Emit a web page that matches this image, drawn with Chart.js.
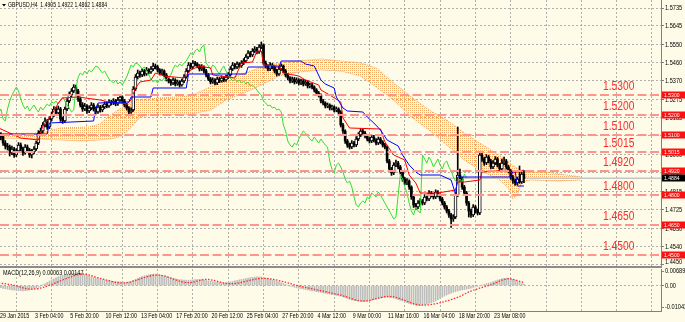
<!DOCTYPE html>
<html><head><meta charset="utf-8">
<script src="https://cdn.jsdelivr.net/npm/chart.js@4.4.1/dist/chart.umd.min.js"></script>
<style>
html,body{margin:0;padding:0;background:#fefce8;}
#wrap{position:relative;width:685px;height:322px;overflow:hidden;background:#fefce8;}
#c1{position:absolute;left:0;top:0;}
#sep{position:absolute;left:0;top:266px;width:662px;height:2px;background:#8c8c8c;}
#c2{position:absolute;left:0;top:268px;}
</style></head><body>
<div id="wrap"><canvas id="c1" width="685" height="266"></canvas><div id="sep"></div><canvas id="c2" width="685" height="54"></canvas></div>
<script>
// ---------------- DATA ----------------
const symbol = "GBPUSD,H4";
const timeLabels = ["29 Jan 2015","3 Feb 04:00","5 Feb 20:00","10 Feb 12:00","13 Feb 04:00","17 Feb 20:00","20 Feb 12:00","25 Feb 04:00","27 Feb 20:00","4 Mar 12:00","9 Mar 00:00","11 Mar 16:00","16 Mar 04:00","18 Mar 20:00","23 Mar 08:00"];
const priceTicks = [1.5735,1.5645,1.5550,1.5460,1.5370,1.5275,1.5185,1.5095,1.5000,1.4910,1.4815,1.4725,1.4630,1.4540,1.4450];
const levels = [1.5300,1.5200,1.5100,1.5015,1.4920,1.4800,1.4650,1.4500];
const macdTicks = [0.00689,0,-0.01043];

const closes = [1.5100,1.5090,1.5060,1.5045,1.5040,1.5010,1.5030,1.5000,1.5020,1.5050,
1.5030,1.5010,1.5040,1.5025,1.5000,1.5015,1.5030,1.5060,1.5110,1.5120,
1.5150,1.5170,1.5140,1.5180,1.5200,1.5230,1.5210,1.5230,1.5180,1.5170,
1.5230,1.5270,1.5300,1.5320,1.5340,1.5320,1.5280,1.5250,1.5230,1.5245,
1.5220,1.5235,1.5250,1.5230,1.5215,1.5240,1.5225,1.5240,1.5255,1.5245,
1.5265,1.5260,1.5270,1.5255,1.5275,1.5290,1.5270,1.5250,1.5235,1.5215,
1.5225,1.5330,1.5390,1.5410,1.5400,1.5420,1.5405,1.5425,1.5415,1.5430,
1.5445,1.5440,1.5425,1.5410,1.5420,1.5400,1.5380,1.5370,1.5360,1.5375,
1.5355,1.5365,1.5350,1.5370,1.5390,1.5420,1.5450,1.5440,1.5460,1.5455,
1.5445,1.5430,1.5440,1.5420,1.5400,1.5380,1.5365,1.5375,1.5360,1.5380,
1.5370,1.5385,1.5375,1.5390,1.5400,1.5430,1.5450,1.5440,1.5455,1.5445,
1.5460,1.5470,1.5490,1.5510,1.5500,1.5520,1.5530,1.5515,1.5540,1.5550,
1.5460,1.5445,1.5430,1.5450,1.5440,1.5420,1.5405,1.5430,1.5445,1.5420,
1.5400,1.5385,1.5370,1.5380,1.5365,1.5375,1.5360,1.5370,1.5355,1.5365,
1.5345,1.5350,1.5340,1.5325,1.5310,1.5300,1.5270,1.5260,1.5245,1.5250,
1.5235,1.5240,1.5225,1.5230,1.5215,1.5150,1.5120,1.5070,1.5050,1.5040,
1.5060,1.5050,1.5080,1.5100,1.5120,1.5110,1.5095,1.5080,1.5070,1.5090,
1.5075,1.5060,1.5080,1.5065,1.5050,1.5040,1.4970,1.4930,1.4910,1.4950,
1.4960,1.4940,1.4915,1.4880,1.4860,1.4870,1.4840,1.4790,1.4750,1.4740,
1.4760,1.4770,1.4760,1.4790,1.4780,1.4810,1.4800,1.4790,1.4815,1.4800,
1.4780,1.4760,1.4740,1.4720,1.4700,1.4680,1.4690,1.4800,1.4900,1.4880,
1.4840,1.4810,1.4760,1.4720,1.4700,1.4740,1.4720,1.4710,1.5000,1.4980,
1.4960,1.4990,1.4970,1.4940,1.4960,1.4980,1.4950,1.4930,1.4960,1.4970,
1.4940,1.4920,1.4890,1.4870,1.4860,1.4880,1.4865,1.4905,1.4884];

const opens = [1.5110,1.5100,1.5090,1.5060,1.5045,1.5040,1.5010,1.5030,1.5000,1.5020,
1.5050,1.5030,1.5010,1.5040,1.5025,1.5000,1.5015,1.5030,1.5060,1.5110,
1.5120,1.5150,1.5170,1.5140,1.5180,1.5200,1.5230,1.5210,1.5230,1.5180,
1.5170,1.5230,1.5270,1.5300,1.5320,1.5340,1.5320,1.5280,1.5250,1.5230,
1.5245,1.5220,1.5235,1.5250,1.5230,1.5215,1.5240,1.5225,1.5240,1.5255,
1.5245,1.5265,1.5260,1.5270,1.5255,1.5275,1.5290,1.5270,1.5250,1.5235,
1.5215,1.5225,1.5330,1.5390,1.5410,1.5400,1.5420,1.5405,1.5425,1.5415,
1.5430,1.5445,1.5440,1.5425,1.5410,1.5420,1.5400,1.5380,1.5370,1.5360,
1.5375,1.5355,1.5365,1.5350,1.5370,1.5390,1.5420,1.5450,1.5440,1.5460,
1.5455,1.5445,1.5430,1.5440,1.5420,1.5400,1.5380,1.5365,1.5375,1.5360,
1.5380,1.5370,1.5385,1.5375,1.5390,1.5400,1.5430,1.5450,1.5440,1.5455,
1.5445,1.5460,1.5470,1.5490,1.5510,1.5500,1.5520,1.5530,1.5515,1.5540,
1.5550,1.5460,1.5445,1.5430,1.5450,1.5440,1.5420,1.5405,1.5430,1.5445,
1.5420,1.5400,1.5385,1.5370,1.5380,1.5365,1.5375,1.5360,1.5370,1.5355,
1.5365,1.5345,1.5350,1.5340,1.5325,1.5310,1.5300,1.5270,1.5260,1.5245,
1.5250,1.5235,1.5240,1.5225,1.5230,1.5215,1.5150,1.5120,1.5070,1.5050,
1.5040,1.5060,1.5050,1.5080,1.5100,1.5120,1.5110,1.5095,1.5080,1.5070,
1.5090,1.5075,1.5060,1.5080,1.5065,1.5050,1.5040,1.4970,1.4930,1.4910,
1.4950,1.4960,1.4940,1.4915,1.4880,1.4860,1.4870,1.4840,1.4790,1.4750,
1.4740,1.4760,1.4770,1.4760,1.4790,1.4780,1.4810,1.4800,1.4790,1.4815,
1.4800,1.4780,1.4760,1.4740,1.4720,1.4700,1.4680,1.4690,1.4800,1.4900,
1.4880,1.4840,1.4810,1.4760,1.4720,1.4700,1.4740,1.4720,1.4710,1.5000,
1.4980,1.4960,1.4990,1.4970,1.4940,1.4960,1.4980,1.4950,1.4930,1.4960,
1.4970,1.4940,1.4920,1.4890,1.4870,1.4860,1.4880,1.4865,1.4905];

const highs = [1.5125,1.5112,1.5098,1.5072,1.5058,1.5050,1.5045,1.5038,1.5032,1.5062,
1.5060,1.5040,1.5052,1.5050,1.5033,1.5028,1.5042,1.5070,1.5122,1.5135,
1.5162,1.5185,1.5178,1.5192,1.5215,1.5242,1.5240,1.5245,1.5238,1.5190,
1.5240,1.5282,1.5315,1.5332,1.5352,1.5350,1.5328,1.5290,1.5262,1.5258,
1.5252,1.5246,1.5262,1.5258,1.5240,1.5252,1.5248,1.5250,1.5266,1.5263,
1.5276,1.5274,1.5282,1.5278,1.5288,1.5302,1.5296,1.5278,1.5258,1.5242,
1.5236,1.5342,1.5402,1.5425,1.5420,1.5432,1.5428,1.5438,1.5432,1.5442,
1.5458,1.5455,1.5448,1.5432,1.5430,1.5426,1.5408,1.5390,1.5378,1.5386,
1.5382,1.5375,1.5372,1.5380,1.5402,1.5432,1.5462,1.5460,1.5472,1.5468,
1.5462,1.5452,1.5452,1.5446,1.5428,1.5408,1.5388,1.5386,1.5382,1.5390,
1.5388,1.5396,1.5392,1.5400,1.5412,1.5442,1.5462,1.5458,1.5466,1.5462,
1.5472,1.5482,1.5502,1.5522,1.5518,1.5532,1.5542,1.5538,1.5552,1.5565,
1.5556,1.5470,1.5452,1.5462,1.5458,1.5446,1.5428,1.5442,1.5456,1.5450,
1.5428,1.5408,1.5392,1.5390,1.5388,1.5386,1.5382,1.5380,1.5378,1.5375,
1.5372,1.5360,1.5358,1.5346,1.5332,1.5318,1.5306,1.5278,1.5266,1.5260,
1.5256,1.5250,1.5246,1.5240,1.5236,1.5222,1.5158,1.5126,1.5078,1.5060,
1.5072,1.5068,1.5092,1.5112,1.5132,1.5128,1.5118,1.5102,1.5088,1.5100,
1.5098,1.5082,1.5090,1.5088,1.5072,1.5058,1.5046,1.4978,1.4938,1.4962,
1.4975,1.4968,1.4948,1.4922,1.4888,1.4882,1.4876,1.4846,1.4798,1.4758,
1.4772,1.4782,1.4778,1.4802,1.4798,1.4822,1.4818,1.4808,1.4826,1.4822,
1.4806,1.4788,1.4768,1.4748,1.4728,1.4708,1.4702,1.4812,1.5140,1.4930,
1.4890,1.4848,1.4818,1.4768,1.4730,1.4752,1.4748,1.4730,1.5012,1.5010,
1.4988,1.5002,1.4998,1.4978,1.4972,1.4992,1.4988,1.4958,1.4980,1.4990,
1.4978,1.4948,1.4928,1.4898,1.4880,1.4890,1.4945,1.4915,1.4922];

const lows = [1.5085,1.5075,1.5048,1.5030,1.5025,1.4995,1.5002,1.4988,1.4992,1.5012,
1.5018,1.4998,1.5004,1.5012,1.4988,1.4985,1.5005,1.5022,1.5052,1.5098,
1.5110,1.5140,1.5128,1.5132,1.5170,1.5192,1.5198,1.5202,1.5168,1.5158,
1.5162,1.5222,1.5262,1.5290,1.5312,1.5305,1.5268,1.5240,1.5218,1.5222,
1.5208,1.5212,1.5226,1.5220,1.5205,1.5208,1.5214,1.5216,1.5232,1.5236,
1.5238,1.5250,1.5252,1.5246,1.5248,1.5268,1.5262,1.5240,1.5225,1.5205,
1.5208,1.5218,1.5322,1.5380,1.5388,1.5392,1.5395,1.5398,1.5405,1.5408,
1.5422,1.5430,1.5415,1.5400,1.5402,1.5390,1.5370,1.5360,1.5348,1.5352,
1.5345,1.5348,1.5340,1.5344,1.5362,1.5384,1.5412,1.5430,1.5432,1.5445,
1.5436,1.5420,1.5422,1.5410,1.5390,1.5372,1.5355,1.5358,1.5350,1.5352,
1.5362,1.5364,1.5366,1.5368,1.5382,1.5394,1.5422,1.5430,1.5432,1.5436,
1.5438,1.5452,1.5462,1.5482,1.5490,1.5492,1.5512,1.5505,1.5508,1.5532,
1.5450,1.5435,1.5420,1.5422,1.5430,1.5410,1.5395,1.5398,1.5422,1.5410,
1.5390,1.5375,1.5360,1.5362,1.5355,1.5358,1.5350,1.5352,1.5345,1.5348,
1.5335,1.5336,1.5330,1.5315,1.5300,1.5290,1.5260,1.5250,1.5235,1.5236,
1.5225,1.5226,1.5215,1.5216,1.5205,1.5140,1.5108,1.5058,1.5038,1.5030,
1.5032,1.5040,1.5042,1.5072,1.5092,1.5100,1.5085,1.5070,1.5060,1.5062,
1.5066,1.5050,1.5052,1.5056,1.5040,1.5030,1.4960,1.4918,1.4898,1.4902,
1.4942,1.4930,1.4905,1.4868,1.4850,1.4852,1.4828,1.4778,1.4738,1.4728,
1.4732,1.4750,1.4750,1.4752,1.4770,1.4772,1.4790,1.4780,1.4782,1.4790,
1.4770,1.4750,1.4730,1.4710,1.4688,1.4638,1.4668,1.4682,1.4792,1.4868,
1.4828,1.4800,1.4748,1.4690,1.4688,1.4692,1.4710,1.4700,1.4702,1.4968,
1.4948,1.4952,1.4960,1.4930,1.4932,1.4952,1.4940,1.4920,1.4922,1.4950,
1.4930,1.4910,1.4878,1.4858,1.4848,1.4852,1.4858,1.4858,1.4862];

// Tenkan-sen (red) read at key bars
const tenkanBars = [0,5,10,18,20,24,27,29,36,46,50,58,60,62,64,69,71,75,84,87,91,96,97,107,110,115,117,119,120,127,129,136,139,145,146,150,155,156,159,173,175,179,184,186,189,191,199,207,208,211,218,219,230,233,238];
const tenkanVals = [1.5135,1.5110,1.5085,1.5075,1.5145,1.5200,1.5260,1.5285,1.5290,1.5275,1.5265,1.5255,1.5275,1.5335,1.5365,1.5375,1.5410,1.5395,1.5385,1.5425,1.5445,1.5435,1.5400,1.5385,1.5460,1.5465,1.5520,1.5520,1.5450,1.5445,1.5410,1.5395,1.5375,1.5350,1.5325,1.5300,1.5265,1.5185,1.5135,1.5130,1.5065,1.5000,1.4975,1.4900,1.4860,1.4810,1.4810,1.4825,1.4865,1.4865,1.4875,1.4915,1.4925,1.4910,1.4925];
// Kijun-sen (blue)
const kijunBars = [0,22,23,43,44,45,59,60,69,70,85,86,112,113,127,128,137,139,143,146,148,152,153,156,158,165,167,170,173,176,181,183,186,189,191,200,205,207,208,232,233,234,235,238];
const kijunVals = [1.5105,1.5105,1.5160,1.5170,1.5235,1.5260,1.5265,1.5290,1.5290,1.5335,1.5335,1.5405,1.5405,1.5440,1.5440,1.5470,1.5470,1.5455,1.5445,1.5375,1.5355,1.5335,1.5290,1.5235,1.5220,1.5215,1.5190,1.5160,1.5125,1.5075,1.5045,1.5000,1.4950,1.4915,1.4900,1.4900,1.4875,1.4805,1.4890,1.4890,1.4920,1.4920,1.4845,1.4845];
// Senkou span A / B (cloud edges)
const spanABars = [0,19,28,41,46,50,57,62,73,87,93,100,109,118,127,136,146,155,164,171,179,187,195,203,211,218,228,234,238,248,257,264];
const spanAVals = [1.5105,1.5110,1.5135,1.5140,1.5155,1.5195,1.5245,1.5275,1.5285,1.5295,1.5325,1.5365,1.5400,1.5435,1.5460,1.5470,1.5480,1.5470,1.5460,1.5435,1.5360,1.5290,1.5225,1.5175,1.5110,1.5060,1.4990,1.4940,1.4915,1.4915,1.4900,1.4890];
const spanBBars = [0,19,37,46,53,57,61,64,69,87,96,103,112,118,127,136,146,155,164,171,179,187,195,203,211,218,227,231,233,235,237,241,254,264];
const spanBVals = [1.5085,1.5080,1.5070,1.5075,1.5085,1.5105,1.5150,1.5190,1.5200,1.5205,1.5225,1.5275,1.5315,1.5345,1.5395,1.5415,1.5425,1.5420,1.5395,1.5340,1.5275,1.5190,1.5125,1.5050,1.4975,1.4925,1.4875,1.4835,1.4780,1.4800,1.4865,1.4875,1.4870,1.4875];
const chikouShift = 26;

// MACD main histogram (x 1e-4)
const macdMainE4 = [-8,-10,-13,-15,-17,-19,-21,-22,-23,-24,-25,-25,-24,-23,-21,-19,-16,-12,-7,-2,
4,10,16,22,28,33,38,43,47,50,53,55,57,58,59,60,59,58,56,
53,50,46,43,40,37,34,31,29,27,25,24,22,21,20,19,18,17,16,16,17,20,
25,30,35,40,44,47,50,52,54,55,55,54,52,50,47,
44,41,38,35,33,31,29,28,27,26,26,27,28,29,30,30,29,27,25,23,21,19,17,16,15,14,14,15,16,
18,20,23,26,28,30,32,34,36,38,40,41,42,42,41,39,
36,33,30,27,24,21,18,14,10,6,2,
-2,-5,-8,-11,-13,-15,-17,-19,-21,-23,-25,-27,-29,-31,-33,-35,-37,-39,-41,-43,-45,-47,-49,-51,
-54,-58,-62,-66,-69,-71,-73,-74,-75,-76,-76,-75,-73,
-70,-67,-64,-62,-60,-58,-57,-56,-57,-58,-60,-63,-67,-71,
-74,-78,-82,-86,-89,-92,-94,-95,-95,-94,-92,-89,-86,-83,
-79,-74,-68,-62,-56,-50,-45,-40,-36,-32,-29,-26,-23,-21,-19,-17,
-15,-12,-9,-6,-3,0,3,6,9,12,
15,19,23,27,30,33,35,36,36,
34,30,25,20,15,10,6.3];
// MACD signal line (x 1e-4), read at key bars
const signalBars = [0,6,15,20,31,38,46,56,72,86,94,105,120,137,155,165,177,192,208,214,223,231,238];
const signalValsE4 = [13,4,-17,-9,35,56,35,13,51,14,30,9,35,-4,-46,-74,-52,-94,-56,-26,4,33,14.7];

// ---------------- SETUP ----------------
const xMin = 0.6, xMax = 300.1, barsPerLabel = 16;
const FONT = "'Liberation Sans',Arial,sans-serif";
const SX = 0.76;            // horizontal squeeze of the small MT4 text
const gridColor = 'rgba(150,150,150,0.75)';
const axisColor = '#808080';

function gridTicks(){ const t=[]; for(let b=barsPerLabel;b<xMax;b+=barsPerLabel) t.push({value:b}); return t; }
const pts = (xs, ys, k) => xs.map((x,i)=>({x:x, y:ys[i]*(k||1)}));
function txt(ctx, s, x, y, size, sx, color, align){
  ctx.save(); ctx.font = size + 'px ' + FONT; ctx.fillStyle = color || '#000';
  ctx.textAlign = align || 'left'; ctx.textBaseline = 'middle';
  ctx.translate(x, y); ctx.scale(sx, 1); ctx.fillText(s, 0, 0); ctx.restore();
}

// cloud dotted pattern
const pc = document.createElement('canvas'); pc.width=2; pc.height=2;
const pg = pc.getContext('2d'); pg.fillStyle='#f5ac66'; pg.fillRect(0,0,1,1);
const cloudPattern = pg.createPattern(pc,'repeat');

const wickData = highs.map((h,i)=>({x:i, y:[lows[i], h]}));
const bullData = [], bearData = [];
closes.forEach((c,i)=>{ (c>=opens[i]?bullData:bearData).push({x:i, y:[opens[i], c]}); });
const chikouData = closes.map((c,i)=>({x:i-chikouShift, y:c}));

const levelSets = levels.map(lv=>({type:'line', data:[{x:xMin,y:lv},{x:xMax,y:lv}], borderColor:'#ff948c', borderWidth:2, borderDash:[9,3.5], pointRadius:0, order:1}));
const last = closes.length-1;

const mainPlugin = {
  id:'mainText',
  afterDraw(chart){
    const {ctx, chartArea, scales:{y}} = chart;
    priceTicks.forEach(v=>txt(ctx, v.toFixed(4), chartArea.right+4, Math.min(y.getPixelForValue(v), chartArea.bottom-3.5), 7, 0.8));
    levels.forEach(lv=>txt(ctx, lv.toFixed(4), 603, y.getPixelForValue(lv)-8.5, 12.5, 0.82, '#ff2a2a'));
    const tag = (v, bg) => {
      const py = Math.round(y.getPixelForValue(v));
      ctx.fillStyle = bg; ctx.fillRect(chartArea.right+1, py-3.5, 23, 7);
      txt(ctx, v.toFixed(4), chartArea.right+3, py+0.5, 6, 0.85, '#fff');
    };
    levels.forEach(lv=>tag(lv,'#ff1010'));
    tag(closes[last], '#000');
    ctx.save(); ctx.fillStyle='#000';
    ctx.beginPath(); ctx.moveTo(2,4); ctx.lineTo(6,4); ctx.lineTo(4,6.5); ctx.closePath(); ctx.fill(); ctx.restore();
    txt(ctx, symbol + "  " + [opens[last],highs[last],lows[last],closes[last]].map(v=>v.toFixed(4)).join(' '), 8, 5.5, 7, 0.73);
  }
};

new Chart(document.getElementById('c1'), {
  type:'bar',
  data:{ datasets:[
    ...levelSets,
    {type:'line', label:'kijun', data:pts(kijunBars,kijunVals), borderColor:'#0000ff', borderWidth:1, pointRadius:0, order:2},
    {type:'line', label:'tenkan', data:pts(tenkanBars,tenkanVals), borderColor:'#ff0000', borderWidth:1, pointRadius:0, order:2},
    {type:'line', label:'chikou', data:chikouData, borderColor:'#33dd33', borderWidth:1, pointRadius:0, order:3},
    {type:'bar', label:'bull', data:bullData, backgroundColor:'#ffffff', borderColor:'#000', borderWidth:1, borderSkipped:false, barThickness:3, grouped:false, minBarLength:1, order:4},
    {type:'bar', label:'bear', data:bearData, backgroundColor:'#000', barThickness:2, grouped:false, minBarLength:1, order:4},
    {type:'bar', label:'wick', data:wickData, backgroundColor:'#000', barThickness:1, grouped:false, order:5},
    {type:'line', label:'bid', data:[{x:xMin,y:closes[last]},{x:xMax,y:closes[last]}], borderColor:'#c4c4c4', borderWidth:1.5, pointRadius:0, order:8},
    {type:'line', label:'spanA', data:pts(spanABars,spanAVals), borderColor:'#f0a050', borderWidth:1, borderDash:[1,1], pointRadius:0, fill:'+1', backgroundColor:cloudPattern, order:10},
    {type:'line', label:'spanB', data:pts(spanBBars,spanBVals), borderColor:'#f0a050', borderWidth:1, borderDash:[1,1], pointRadius:0, order:10}
  ]},
  options:{
    responsive:false, animation:false, events:[],
    layout:{padding:0},
    plugins:{legend:{display:false}, tooltip:{enabled:false}},
    scales:{
      x:{type:'linear', min:xMin, max:xMax, offset:false,
        afterBuildTicks:s=>{s.ticks=gridTicks();},
        afterFit:s=>{s.height=0; s.paddingLeft=0; s.paddingRight=0;},
        ticks:{display:false},
        grid:{color:gridColor, drawTicks:false, lineWidth:1},
        border:{display:false, dash:[2,2]}},
      y:{type:'linear', position:'right', min:1.4445, max:1.5775,
        afterBuildTicks:s=>{s.ticks=priceTicks.map(v=>({value:v}));},
        afterFit:s=>{s.width=24; s.paddingTop=0; s.paddingBottom=0;},
        ticks:{display:false},
        grid:{color:gridColor, tickLength:3, tickColor:axisColor, tickBorderDash:[]},
        border:{display:true, color:axisColor, dash:[2,2]}}
    }
  },
  plugins:[mainPlugin]
});

const macdPlugin = {
  id:'macdText',
  afterDraw(chart){
    const {ctx, chartArea, scales:{x, y}} = chart;
    txt(ctx, "MACD(12,26,9) " + (macdMainE4[last]/1e4).toFixed(5) + " " + (signalValsE4[signalValsE4.length-1]/1e4).toFixed(5), 3, 5.5, 7, 0.78);
    macdTicks.forEach(v=>txt(ctx, v===0 ? '0.00' : v.toFixed(5), chartArea.right+4, y.getPixelForValue(v), 7, 0.8));
    const tks = [xMin, ...gridTicks().map(t=>t.value)];
    timeLabels.forEach((s,i)=>txt(ctx, s, x.getPixelForValue(tks[i]) + (i===0?0:1), chartArea.bottom+5.5, 7, SX));
  }
};

new Chart(document.getElementById('c2'), {
  type:'bar',
  data:{ datasets:[
    {type:'line', label:'signal', data:pts(signalBars,signalValsE4,1e-4), borderColor:'#ff2a2a', borderWidth:1.3, borderDash:[1.5,1.5], pointRadius:0, cubicInterpolationMode:'monotone', order:1},
    {type:'bar', label:'macd', data:macdMainE4.map((v,i)=>({x:i,y:v/1e4})), backgroundColor:'#bdbdbd', barThickness:1, grouped:false, order:2}
  ]},
  options:{
    responsive:false, animation:false, events:[],
    layout:{padding:{top:1,left:0,right:0,bottom:0}},
    plugins:{legend:{display:false}, tooltip:{enabled:false}},
    scales:{
      x:{type:'linear', min:xMin, max:xMax, offset:false,
        afterBuildTicks:s=>{s.ticks=[{value:xMin}, ...gridTicks()];},
        afterFit:s=>{s.height=11; s.paddingLeft=0; s.paddingRight=0;},
        ticks:{display:false},
        grid:{color:c=> (c.tick && c.tick.value<1) ? 'rgba(0,0,0,0)' : gridColor, drawTicks:false},
        border:{display:true, color:axisColor, dash:[2,2]}},
      y:{type:'linear', position:'right', min:-0.0122, max:0.0080,
        afterBuildTicks:s=>{s.ticks=macdTicks.map(v=>({value:v}));},
        afterFit:s=>{s.width=24; s.paddingTop=0; s.paddingBottom=0;},
        ticks:{display:false},
        grid:{color:c=> (c.tick && c.tick.value===0) ? gridColor : 'rgba(0,0,0,0)', tickLength:3, tickColor:axisColor, tickBorderDash:[]},
        border:{display:true, color:axisColor, dash:[2,2]}}
    }
  },
  plugins:[macdPlugin]
});
</script>
</body></html>
